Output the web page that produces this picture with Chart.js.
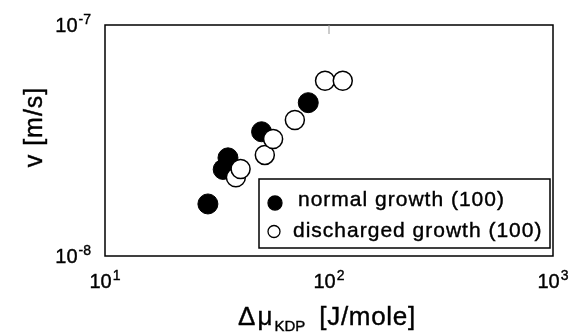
<!DOCTYPE html>
<html>
<head>
<meta charset="utf-8">
<script src="https://cdn.jsdelivr.net/npm/chart.js@4"></script>
<style>
  html, body { margin: 0; padding: 0; background: #fff; }
  canvas { display: block; }
</style>
</head>
<body>
<canvas id="chart" width="574" height="332"></canvas>
<script>
// values
const normalX     = [28.8, 33.7, 35.4, 50.0, 80.8];
const normalY     = [1.68e-8, 2.37e-8, 2.66e-8, 3.45e-8, 4.61e-8];
const dischargedX = [38.4, 40.3, 51.7, 56.3, 70.4, 96.0, 115.2];
const dischargedY = [2.19e-8, 2.38e-8, 2.74e-8, 3.21e-8, 3.88e-8, 5.74e-8, 5.74e-8];

const seriesLabels = ['normal growth (100)', 'discharged growth (100)'];

const xTicks    = [10, 100, 1000];
const xTickExps = ['1', '2', '3'];
const yTicks    = [1e-8, 1e-7];
const yTickExps = ['-8', '-7'];

const xTitle = ['\u0394\u03bc', 'KDP', '[J/mole]'];
const yTitle = 'v [m/s]';

const FONT = '"Liberation Sans", Arial, Helvetica, sans-serif';

// the scanned figure has heavy text, so thicken it a little
function text(ctx, s, x, y) {
  ctx.fillText(s, x, y);
  ctx.strokeText(s, x, y);
}

function drawPower(ctx, exp, left, baseY, supY) {
  ctx.font = `20px ${FONT}`;
  text(ctx, '10', left, baseY);
  const w = ctx.measureText('10').width;
  ctx.font = `14px ${FONT}`;
  text(ctx, exp, left + w + 1, supY);
}

function powerWidth(ctx, exp) {
  ctx.font = `20px ${FONT}`;
  const w = ctx.measureText('10').width;
  ctx.font = `14px ${FONT}`;
  return w + 1 + ctx.measureText(exp).width;
}

const framePlugin = {
  id: 'frame',
  afterDatasetsDraw(chart) {
    const { ctx, chartArea: a, scales: { x, y } } = chart;
    ctx.save();
    ctx.fillStyle = '#000';
    ctx.strokeStyle = '#000';
    ctx.textBaseline = 'alphabetic';
    ctx.textAlign = 'left';

    // legend box
    const lx = 259, ly = 179, lw = 291, lh = 69;
    ctx.fillStyle = '#fff';
    ctx.fillRect(lx, ly, lw, lh);
    ctx.lineWidth = 1.5;
    ctx.strokeRect(lx, ly, lw, lh);

    const rows = [
      { mx: 275, my: 203, r: 7, tx: 298, ty: 206 },
      { mx: 274, my: 231.5, r: 6, tx: 293, ty: 236.5 }
    ];
    chart.data.datasets.forEach((ds, i) => {
      const row = rows[i];
      ctx.beginPath();
      ctx.arc(row.mx, row.my, row.r, 0, Math.PI * 2);
      ctx.fillStyle = ds.backgroundColor;
      ctx.fill();
      ctx.lineWidth = 1.3;
      ctx.strokeStyle = '#000';
      ctx.stroke();
      ctx.fillStyle = '#000';
      ctx.lineWidth = 0.4;
      ctx.font = `21px ${FONT}`;
      ctx.letterSpacing = '1px';
      text(ctx, ds.label, row.tx, row.ty);
      ctx.letterSpacing = '0px';
    });

    // plot frame
    ctx.lineWidth = 1.5;
    ctx.strokeRect(a.left, a.top, a.right - a.left, a.bottom - a.top);
    const mid = x.getPixelForValue(100);
    ctx.strokeStyle = '#999';
    ctx.lineWidth = 1;
    ctx.beginPath();
    ctx.moveTo(mid, a.top);
    ctx.lineTo(mid, a.top + 9);
    ctx.stroke();

    // tick labels with superscript exponents
    ctx.fillStyle = '#000';
    ctx.strokeStyle = '#000';
    ctx.lineWidth = 0.4;
    xTicks.forEach((v, i) => {
      const px = x.getPixelForValue(v);
      const w = powerWidth(ctx, xTickExps[i]);
      drawPower(ctx, xTickExps[i], px - w / 2, 288, 280);
    });
    yTicks.forEach((v, i) => {
      const py = y.getPixelForValue(v);
      const w = powerWidth(ctx, yTickExps[i]);
      drawPower(ctx, yTickExps[i], a.left - 14 - w, py + 7, py - 1);
    });

    // x title with subscript
    ctx.font = `26px ${FONT}`;
    ctx.letterSpacing = '2px';
    const w1 = ctx.measureText(xTitle[0]).width;
    ctx.letterSpacing = '0.7px';
    const w3 = ctx.measureText(xTitle[2]).width;
    ctx.font = `15px ${FONT}`;
    ctx.letterSpacing = '0px';
    const w2 = ctx.measureText(xTitle[1]).width;
    const gap = 14;
    let tx = (a.left + a.right) / 2 - 2 - (w1 + w2 + gap + w3) / 2;
    ctx.font = `26px ${FONT}`;
    ctx.letterSpacing = '2px';
    text(ctx, xTitle[0], tx, 324.5);
    tx += w1;
    ctx.font = `15px ${FONT}`;
    ctx.letterSpacing = '0px';
    text(ctx, xTitle[1], tx, 331);
    tx += w2 + gap;
    ctx.font = `26px ${FONT}`;
    ctx.letterSpacing = '0.7px';
    text(ctx, xTitle[2], tx, 324.5);

    // y title, rotated
    ctx.translate(42, 127);
    ctx.rotate(-Math.PI / 2);
    ctx.font = `25px ${FONT}`;
    ctx.letterSpacing = '1px';
    ctx.textAlign = 'center';
    text(ctx, yTitle, 0, 0);

    ctx.restore();
  }
};

new Chart(document.getElementById('chart'), {
  type: 'scatter',
  data: {
    datasets: [
      {
        label: seriesLabels[0],
        data: normalX.map((v, i) => ({ x: v, y: normalY[i] })),
        pointRadius: 10,
        pointHoverRadius: 10,
        backgroundColor: '#000',
        borderColor: '#000',
        borderWidth: 1,
        order: 2
      },
      {
        label: seriesLabels[1],
        data: dischargedX.map((v, i) => ({ x: v, y: dischargedY[i] })),
        pointRadius: 9.5,
        pointHoverRadius: 9.5,
        backgroundColor: '#fff',
        borderColor: '#000',
        borderWidth: 1.5,
        order: 1
      }
    ]
  },
  options: {
    responsive: false,
    animation: false,
    devicePixelRatio: 1,
    layout: { padding: { left: 105, right: 21, top: 25, bottom: 76 } },
    scales: {
      x: { type: 'logarithmic', min: 10, max: 1000, display: false },
      y: { type: 'logarithmic', min: 1e-8, max: 1e-7, display: false }
    },
    plugins: {
      legend: { display: false },
      tooltip: { enabled: false }
    }
  },
  plugins: [framePlugin]
});
</script>
</body>
</html>
